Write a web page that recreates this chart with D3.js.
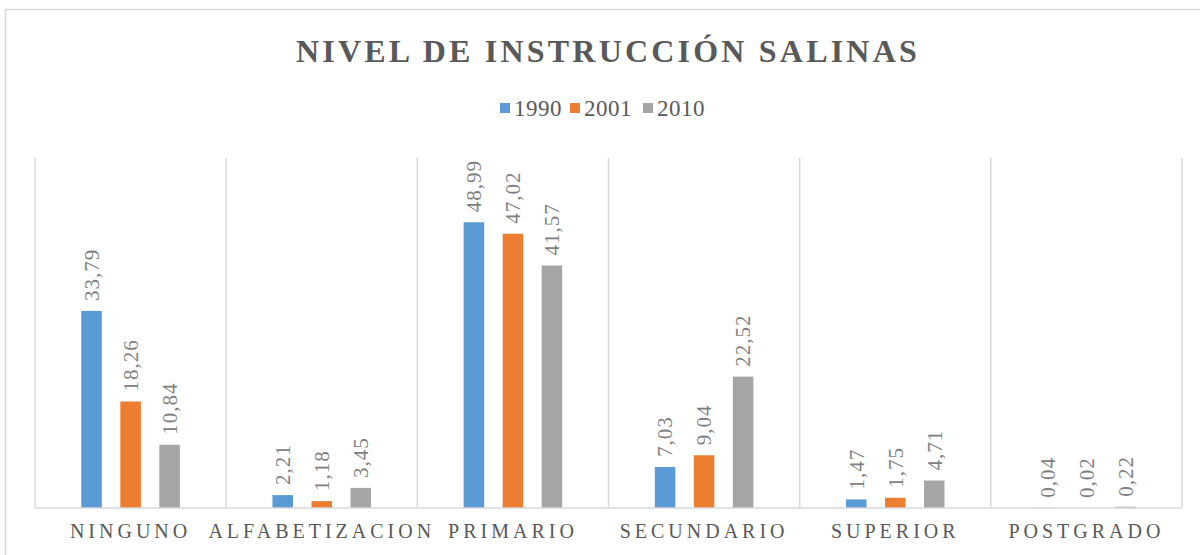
<!DOCTYPE html>
<html><head><meta charset="utf-8">
<script src="https://cdn.jsdelivr.net/npm/d3@7"></script>
<style>body{margin:0;background:#fff}svg{display:block}</style>
</head><body>
<svg id="c" width="1200" height="555"></svg>
<script>
const categories = ["NINGUNO","ALFABETIZACION","PRIMARIO","SECUNDARIO","SUPERIOR","POSTGRADO"];
const seriesNames = ["1990","2001","2010"];
const v1990 = [33.79, 2.21, 48.99, 7.03, 1.47, 0.04];
const v2001 = [18.26, 1.18, 47.02, 9.04, 1.75, 0.02];
const v2010 = [10.84, 3.45, 41.57, 22.52, 4.71, 0.22];
const colors = ["#5b9bd5","#ed7d31","#a5a5a5"];
const title = "NIVEL DE INSTRUCCIÓN SALINAS";

const values = [v1990, v2001, v2010];
const svg = d3.select("#c");
const FF = '"Liberation Serif"';

// chart border
svg.append("rect").attr("x",5.5).attr("y",9.5).attr("width",1200).attr("height",600)
  .attr("fill","#fff").attr("stroke","#d9d9d9").attr("stroke-width",1.5);

const L=35, R=1182, T=158, B=508;
const x0 = d3.scaleBand().domain(categories).range([L,R]).padding(0);
const x1 = d3.scaleBand().domain(seriesNames).range([0,x0.bandwidth()]).paddingInner(0.474).paddingOuter(1.187);
const y = d3.scaleLinear().domain([0,60]).range([B,T]);

// vertical gridlines
const bounds = categories.map(c=>x0(c)).concat([R]);
svg.append("g").selectAll("line").data(bounds).join("line")
  .attr("x1",d=>d).attr("x2",d=>d).attr("y1",T).attr("y2",B)
  .attr("stroke","#d9d9d9").attr("stroke-width",1.5);

// bars
const data = [];
categories.forEach((c,i)=>seriesNames.forEach((s,j)=>data.push({c,s,j,v:values[j][i]})));
svg.append("g").selectAll("rect").data(data).join("rect")
  .attr("x",d=>x0(d.c)+x1(d.s)).attr("width",x1.bandwidth())
  .attr("y",d=>y(d.v)).attr("height",d=>B-y(d.v)).attr("fill",d=>colors[d.j]);

// data labels
svg.append("g").selectAll("text").data(data).join("text")
  .attr("transform",d=>`translate(${x0(d.c)+x1(d.s)+x1.bandwidth()/2},${y(d.v)-10}) rotate(-90)`)
  .attr("dy","0.35em").attr("text-anchor","start")
  .style("font-family",FF).style("font-size","21px").style("letter-spacing","1px")
  .attr("fill","#7f7f7f")
  .text(d=>d.v.toFixed(2).replace(".",","));

// baseline axis
svg.append("line").attr("x1",L).attr("x2",R).attr("y1",B).attr("y2",B)
  .attr("stroke","#d9d9d9").attr("stroke-width",1.5);
const xAxis = svg.append("g").attr("transform",`translate(0,${B})`)
  .call(d3.axisBottom(x0).tickSize(0).tickPadding(16));
xAxis.select(".domain").remove();
xAxis.selectAll("text").style("font-family",FF).style("font-size","20px")
  .style("letter-spacing","4px").attr("fill","#595959");

// title
svg.append("text").attr("x",608).attr("y",62).attr("text-anchor","middle")
  .style("font-family",FF).style("font-weight","bold").style("font-size","32px")
  .style("letter-spacing","3.2px").attr("fill","#595959").text(title);

// legend
const legX = [500, 570, 643];
const lg = svg.append("g").selectAll("g").data(seriesNames).join("g")
  .attr("transform",(d,i)=>`translate(${legX[i]},116)`);
lg.append("rect").attr("x",0).attr("y",-13).attr("width",10).attr("height",10)
  .attr("fill",(d,i)=>colors[i]);
lg.append("text").attr("x",14).attr("y",0)
  .style("font-family",FF).style("font-size","23px").style("letter-spacing","0.5px")
  .attr("fill","#595959").text(d=>d);
</script>
</body></html>
